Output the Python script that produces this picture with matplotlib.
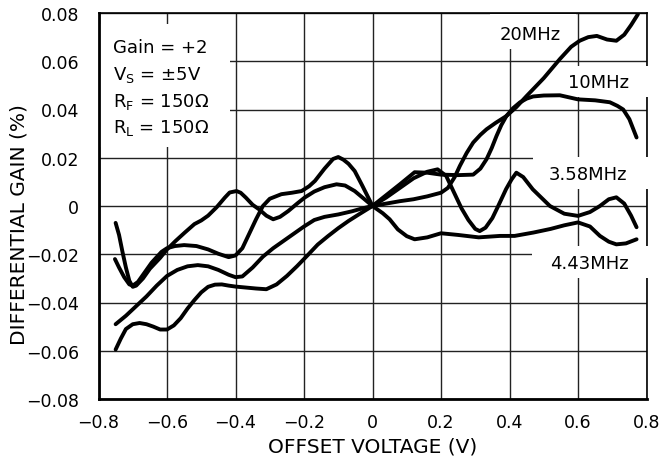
import matplotlib
matplotlib.use("Agg")
import matplotlib.pyplot as plt
from matplotlib.patches import Rectangle

plt.rcParams['font.family'] = ['DejaVu Sans']
plt.rcParams['mathtext.fontset'] = 'dejavusans'
plt.rcParams['mathtext.default'] = 'regular'
plt.rcParams['axes.unicode_minus'] = True

# ---------------- data ----------------
x_20 = [-0.75, -0.735, -0.72, -0.70, -0.68, -0.66, -0.64, -0.62, -0.60, -0.58, -0.56,
        -0.54, -0.52, -0.50, -0.48, -0.46, -0.44, -0.42, -0.40, -0.37, -0.34, -0.31,
        -0.28, -0.25, -0.22, -0.19, -0.16, -0.13, -0.10, -0.07, -0.04, 0.0,
        0.04, 0.08, 0.12, 0.16, 0.20, 0.22, 0.24, 0.255, 0.275, 0.294, 0.315, 0.333,
        0.36, 0.391, 0.42, 0.45, 0.50, 0.547, 0.58, 0.605, 0.63, 0.655, 0.685, 0.712,
        0.735, 0.755, 0.775]
y_20 = [-0.0595, -0.055, -0.051, -0.049, -0.0485, -0.049, -0.050, -0.0512, -0.0512, -0.0495, -0.0465,
        -0.0425, -0.039, -0.0358, -0.0335, -0.0326, -0.0325, -0.0330, -0.0334, -0.0338, -0.0342, -0.0345,
        -0.0325, -0.029, -0.0249, -0.0205, -0.016, -0.0125, -0.0092, -0.0062, -0.0035, 0.0,
        0.001, 0.002, 0.0028, 0.004, 0.0055, 0.0075, 0.012, 0.0166, 0.022, 0.0263, 0.0295, 0.0318,
        0.0345, 0.0373, 0.041, 0.0456, 0.053, 0.0609, 0.066, 0.0685, 0.070, 0.0705, 0.069, 0.0685,
        0.071, 0.075, 0.0795]

x_10 = [-0.75, -0.72, -0.69, -0.66, -0.63, -0.60, -0.57, -0.54, -0.51, -0.48, -0.45,
        -0.42, -0.40, -0.38, -0.35, -0.32, -0.29, -0.26, -0.23, -0.20, -0.17, -0.14,
        -0.10, -0.06, -0.03, 0.0,
        0.04, 0.08, 0.123, 0.16, 0.20, 0.25, 0.294, 0.315, 0.333, 0.348, 0.362, 0.376,
        0.391, 0.41, 0.43, 0.45, 0.469, 0.50, 0.547, 0.60, 0.65, 0.693, 0.715, 0.732,
        0.75, 0.771]
y_10 = [-0.049, -0.0455, -0.0415, -0.0375, -0.033, -0.029, -0.0265, -0.025, -0.0245, -0.025, -0.0265,
        -0.0285, -0.0295, -0.0292, -0.0255, -0.021, -0.0175, -0.0145, -0.0115, -0.0085, -0.0058, -0.0045,
        -0.0035, -0.0022, -0.001, 0.0,
        0.0045, 0.009, 0.014, 0.0138, 0.013, 0.0128, 0.013, 0.0155, 0.0194, 0.024, 0.029, 0.0335,
        0.0373, 0.0405, 0.0429, 0.0445, 0.0454, 0.0458, 0.0459, 0.0442, 0.0438, 0.043, 0.0415, 0.040,
        0.036, 0.0284]

x_358 = [-0.75, -0.74, -0.73, -0.72, -0.71, -0.70, -0.69, -0.67, -0.65, -0.62, -0.60,
         -0.575, -0.548, -0.52, -0.50, -0.48, -0.455, -0.443, -0.431, -0.417, -0.397, -0.385,
         -0.37, -0.35, -0.33, -0.31, -0.29, -0.27, -0.246, -0.22, -0.198, -0.17, -0.14,
         -0.105, -0.08, -0.052, -0.025, 0.0,
         0.04, 0.08, 0.12, 0.16, 0.19, 0.215, 0.24, 0.26, 0.28, 0.30, 0.313, 0.33, 0.35,
         0.367, 0.39, 0.406, 0.42, 0.44, 0.468, 0.518, 0.56, 0.60, 0.635, 0.664, 0.69,
         0.712, 0.735, 0.755, 0.771]
y_358 = [-0.007, -0.012, -0.019, -0.0255, -0.031, -0.0335, -0.033, -0.030, -0.026, -0.0215, -0.018,
         -0.0145, -0.011, -0.0075, -0.006, -0.004, -0.0005, 0.0015, 0.0035, 0.0056, 0.0062, 0.0055,
         0.0035, 0.0005, -0.0015, -0.004, -0.0055, -0.0045, -0.0021, 0.001, 0.0035, 0.006, 0.0078,
         0.009, 0.0085, 0.0062, 0.003, 0.0,
         0.0035, 0.0075, 0.0115, 0.0142, 0.0152, 0.0125, 0.005, -0.001, -0.0058, -0.0095, -0.0104, -0.009, -0.005,
         0.0, 0.007, 0.011, 0.0138, 0.012, 0.0069, 0.0, -0.0032, -0.0041, -0.0025, 0.0, 0.0028,
         0.0036, 0.001, -0.004, -0.0088]

x_443 = [-0.752, -0.74, -0.725, -0.71, -0.70, -0.685, -0.665, -0.645, -0.616, -0.60, -0.577,
         -0.55, -0.514, -0.48, -0.45, -0.42, -0.40, -0.38, -0.36, -0.34, -0.32, -0.30,
         -0.266, -0.235, -0.207, -0.185, -0.168, -0.14, -0.115, -0.10, -0.085, -0.07,
         -0.052, -0.03, 0.0,
         0.03, 0.05, 0.074, 0.10, 0.123, 0.16, 0.20, 0.25, 0.31, 0.372, 0.415, 0.47, 0.52,
         0.56, 0.60, 0.635, 0.664, 0.69, 0.712, 0.74, 0.771]
y_443 = [-0.022, -0.0255, -0.0295, -0.0325, -0.033, -0.0315, -0.0275, -0.0235, -0.019, -0.0175, -0.0166,
         -0.0162, -0.0166, -0.018, -0.0198, -0.0212, -0.0205, -0.0175, -0.0115, -0.0055, 0.0, 0.003,
         0.0049, 0.0055, 0.0062, 0.0082, 0.0104, 0.0155, 0.0195, 0.0203, 0.0192, 0.0175,
         0.0145, 0.0085, 0.0,
         -0.003, -0.0055, -0.0097, -0.0125, -0.0138, -0.013, -0.0113, -0.012, -0.013, -0.0124, -0.0124, -0.011, -0.0095,
         -0.008, -0.0068, -0.0085, -0.0124, -0.0148, -0.0159, -0.0155, -0.0138]

x_ticks = [-0.8, -0.6, -0.4, -0.2, 0.0, 0.2, 0.4, 0.6, 0.8]
x_tick_labels = ['\u22120.8', '\u22120.6', '\u22120.4', '\u22120.2', '0', '0.2', '0.4', '0.6', '0.8']
y_ticks = [-0.08, -0.06, -0.04, -0.02, 0.0, 0.02, 0.04, 0.06, 0.08]
y_tick_labels = ['\u22120.08', '\u22120.06', '\u22120.04', '\u22120.02', '0', '0.02', '0.04', '0.06', '0.08']

cond_lines = ['Gain = +2', 'V$_S$ = \u00b15V', 'R$_F$ = 150\u03a9', 'R$_L$ = 150\u03a9']
curve_labels = ['20MHz', '10MHz', '3.58MHz', '4.43MHz']

# ---------------- figure ----------------
fig = plt.figure(figsize=(6.61, 4.60), dpi=100)
ax = fig.add_axes([98.5 / 661, 1 - 400 / 460, 548 / 661, 386 / 460])
ax.set_xlim(-0.8, 0.8)
ax.set_ylim(-0.08, 0.08)

ax.set_xticks(x_ticks)
ax.set_xticklabels(x_tick_labels)
ax.set_yticks(y_ticks)
ax.set_yticklabels(y_tick_labels)
ax.tick_params(axis='both', length=0, labelsize=12.5, colors='black')
ax.tick_params(axis='x', pad=10)
ax.tick_params(axis='y', pad=14)
ax.grid(True, color='#222222', linewidth=1.0, zorder=1)
ax.set_axisbelow(True)

for side in ['left', 'bottom']:
    ax.spines[side].set_linewidth(2.0)
    ax.spines[side].set_zorder(8)
for side in ['top', 'right']:
    ax.spines[side].set_linewidth(1.2)
    ax.spines[side].set_zorder(3)

# white label boxes (cover grid and right spine)
boxes = [(-0.8, 0.0244, 0.384, 0.051),
         (0.343, 0.065, 0.252, 0.0145),
         (0.547, 0.0451, 0.30, 0.0129),
         (0.468, 0.0069, 0.38, 0.0133),
         (0.465, -0.0297, 0.38, 0.0131)]
for (bx, by, bw, bh) in boxes:
    ax.add_patch(Rectangle((bx, by), bw, bh, facecolor='white', edgecolor='none',
                           zorder=4, clip_on=False))

for xs, ys in [(x_20, y_20), (x_10, y_10), (x_358, y_358), (x_443, y_443)]:
    ax.plot(xs, ys, color='black', linewidth=2.8, solid_capstyle='round',
            solid_joinstyle='round', zorder=6)

fs = 13.0
base_y = [0.0639, 0.0526, 0.0415, 0.0305]
for t, by in zip(cond_lines, base_y):
    ax.text(-0.758, by, t, fontsize=fs, ha='left', va='baseline', zorder=7)

lab_pos = [(0.459, 0.0692), (0.661, 0.0495), (0.629, 0.0111), (0.632, -0.0256)]
for t, (lx, ly) in zip(curve_labels, lab_pos):
    ax.text(lx, ly, t, fontsize=fs, ha='center', va='baseline', zorder=7, clip_on=False)

ax.set_xlabel('OFFSET VOLTAGE (V)', fontsize=14.5, labelpad=4)
ax.set_ylabel('DIFFERENTIAL GAIN (%)', fontsize=14.5)
ax.yaxis.set_label_coords(-0.127, 0.455)

fig.savefig('out.png', dpi=100)
